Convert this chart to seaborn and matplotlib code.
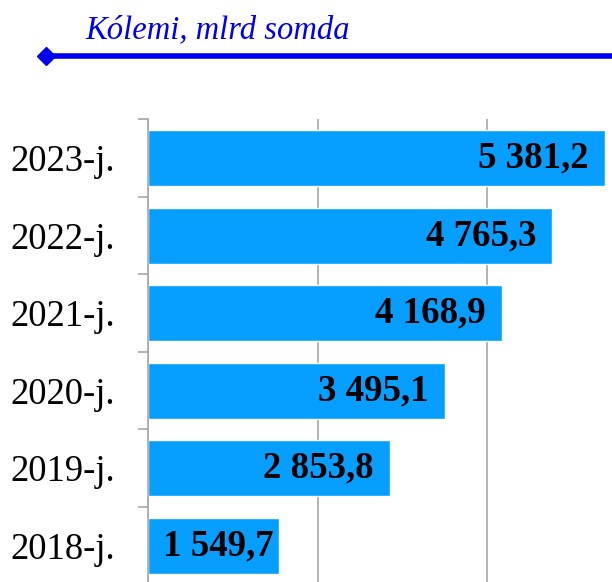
import numpy as np
import pandas as pd
import matplotlib
matplotlib.use("Agg")
import matplotlib.pyplot as plt
import seaborn as sns
from matplotlib.lines import Line2D

years = ["2023-j.", "2022-j.", "2021-j.", "2020-j.", "2019-j.", "2018-j."]
values = [5381.2, 4765.3, 4168.9, 3495.1, 2853.8, 1549.7]
value_labels = ["5 381,2", "4 765,3", "4 168,9", "3 495,1", "2 853,8", "1 549,7"]
title = "Kólemi, mlrd somda"

df = pd.DataFrame({"year": years, "value": values})

sns.set_style("white")
plt.rcParams['font.family'] = ['Liberation Serif', 'DejaVu Serif']

W, H = 612, 582
fig = plt.figure(figsize=(W / 100, H / 100), dpi=100)
ax = fig.add_axes([148 / W, -2.5 / H, (657 - 148) / W, 465 / H])

bar_col = "#069FFF"
grid_col = "#A6A6A6"
sns.barplot(data=df, x="value", y="year", orient="h", color=bar_col,
            saturation=1, width=0.72, ax=ax, zorder=2)

ax.set_xlim(0, 6000)
ax.set_ylim(5.5, -0.5)
ax.set_xticks([0, 2000, 4000, 6000])
ax.set_xticklabels([])
ax.xaxis.grid(True, color=grid_col, lw=1.2, zorder=0)
ax.set_axisbelow(True)
for s in ["top", "right", "bottom"]:
    ax.spines[s].set_visible(False)
ax.spines["left"].set_color(grid_col)
ax.spines["left"].set_linewidth(1.2)
ax.tick_params(axis="x", length=0)
ax.tick_params(axis="y", which="major", length=0, pad=24, labelsize=26.4,
               labelcolor="black")
ax.set_yticks(np.arange(-0.5, 6, 1), minor=True)
ax.tick_params(axis="y", which="minor", left=True, length=7, width=1.2,
               color=grid_col, direction="out")
ax.set_xlabel("")
ax.set_ylabel("")

fig.canvas.draw()
rend = fig.canvas.get_renderer()
axis_px = ax.transData.transform((0, 0))[0]
for i, (v, lab) in enumerate(zip(values, value_labels)):
    t = ax.annotate(lab, xy=(v, i), xytext=(-16, 0), textcoords="offset pixels",
                    ha="right", va="center", fontsize=26.6, fontweight="bold",
                    color="black", zorder=3)
    bb = t.get_window_extent(rend)
    if bb.x0 < axis_px + 15:
        t.set_position((-16 + (axis_px + 15 - bb.x0), 0))

fig.text(85 / W, 1 - 38 / H, title, ha="left", va="baseline", fontsize=23.5,
         style="italic", color="#0000EE")
fig.add_artist(Line2D([46 / W, 1.0], [1 - 56 / H, 1 - 56 / H], color="#0000EE",
                      lw=4, transform=fig.transFigure))
fig.add_artist(Line2D([46 / W], [1 - 56 / H], marker="D", markersize=9,
                      color="#0000EE", transform=fig.transFigure))

fig.savefig("out.png", dpi=100)
